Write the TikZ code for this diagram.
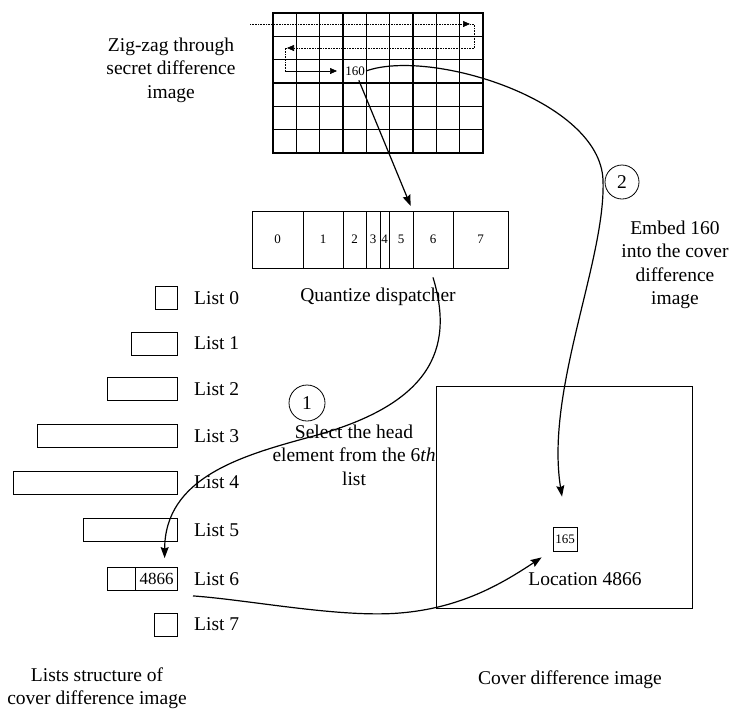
\documentclass[tikz,border=0pt]{standalone}
\usepackage{fontspec}
\setmainfont{Liberation Serif}
\usetikzlibrary{arrows.meta}

\begin{document}
\begin{tikzpicture}[x=1pt,y=-1pt,
    box/.style={draw,line width=0.8pt,inner sep=0pt},
    lbl/.style={font=\fontsize{19.5}{23.5}\selectfont,align=center,inner sep=0pt},
    tiny/.style={font=\fontsize{13}{15}\selectfont,inner sep=1pt},
    arr/.style={line width=1.2pt,-{Stealth[length=11pt,width=8pt,inset=1.5pt]}},
    zz/.style={line width=0.6pt,densely dotted},
    zztip/.style={-{Triangle[length=7pt,width=6pt]}}]
  \useasboundingbox (0,0) rectangle (731,713);

  % secret difference image and the zig-zag scan
  \node[box,line width=1.1pt,minimum width=210,minimum height=140] (S) at (378,83) {};
  \foreach \i in {1,...,8} \draw[line width=1.1pt] ({273+\i*23.33},13) -- ({273+\i*23.33},153);
  \foreach \j in {1,...,5} \draw[line width=1.1pt] (273,{13+\j*23.33}) -- (483,{13+\j*23.33});
  \node[lbl] (zig) at (171,70) {Zig-zag through\\secret difference\\image};
  \node[tiny] (v160) at (355,71) {160};
  \coordinate (z0) at (250,24);
  \coordinate (z1) at (474,24);
  \coordinate (z2) at (474,48);
  \coordinate (z3) at (285,48);
  \coordinate (z4) at (285,71);
  \draw[zz,zztip] (z0) -- (470,24);
  \draw[zz] (470,24) -- (z1) -- (z2);
  \draw[zz,zztip] (z2) -- (287,48);
  \draw[zz] (287,48) -- (z3) -- (z4);
  \draw[line width=0.6pt,zztip] (z4) -- ([xshift=-18pt]v160.center);

  % quantize dispatcher
  \foreach \i/\a/\b in {0/252/303,1/303/343,2/343/366,3/366/380,4/380/389,5/389/413,6/413/453,7/453/508}
    \node[box,tiny,inner sep=0pt,minimum width={\b-\a},minimum height=57] (q\i) at ({(\a+\b)/2},239.5) {\i};
  \node[lbl] (qd) at (378,297) {Quantize dispatcher};

  % lists
  \foreach \i/\l/\y in {0/156/298,1/132/343.5,2/108/389,3/38/436,4/14/482.5,5/84/530,6/108/579,7/155/624.5}{
    \node[box,minimum width={178-\l},minimum height=23,anchor=east] (L\i) at (178,\y) {};
    \node[lbl,anchor=west] (T\i) at (194,\y) {List \i};
  }
  \node[box,font=\fontsize{17}{19}\selectfont,minimum width=42,minimum height=23,anchor=east] (head) at (178,579) {4866};
  \node[lbl] (lst) at (97,688) {Lists structure of\\cover difference image};

  % cover difference image
  \node[box,minimum width=256,minimum height=222] (cover) at (564,497) {};
  \node[box,tiny,minimum size=24] (c165) at (565,539) {165};
  \node[lbl] (loc) at (585,579) {Location 4866};
  \node[lbl] (cdi) at (570,680) {Cover difference image};

  % steps
  \node[lbl,draw,circle,line width=0.8pt,minimum size=36] (one) at (307,403) {1};
  \node[lbl] (sel) at (354,455) {Select the head\\element from the 6\textit{th}\\list};
  \node[lbl,draw,circle,line width=0.8pt,minimum size=34] (two) at (622,182) {2};
  \node[lbl] (emb) at (675,265) {Embed 160\\into the cover\\difference\\image};

  \coordinate (e1) at ([xshift=8pt,yshift=9pt]head.north);
  \coordinate (e2) at ([xshift=-3pt,yshift=30pt]c165.north);
  \coordinate (e3) at ([xshift=-11pt,yshift=-6pt]c165.south west);

  \draw[arr,shorten <=4pt,shorten >=5pt] (v160) -- (q6.north west);
  \draw[arr] (v160.east) .. controls (430,48) and (600,100) .. (603,180)
    .. controls (606,260) and (545,390) .. (e2);
  \draw[arr] ([yshift=-9pt]q6.south) .. controls (455,350) and (430,405) .. (310,437)
    .. controls (240,456) and (165,478) .. (e1);
  \draw[arr] ([xshift=15pt,yshift=-5pt]head.south east) .. controls (250,600) and (340,618) .. (400,613)
    .. controls (460,608) and (500,585) .. (e3);
\end{tikzpicture}
\end{document}
